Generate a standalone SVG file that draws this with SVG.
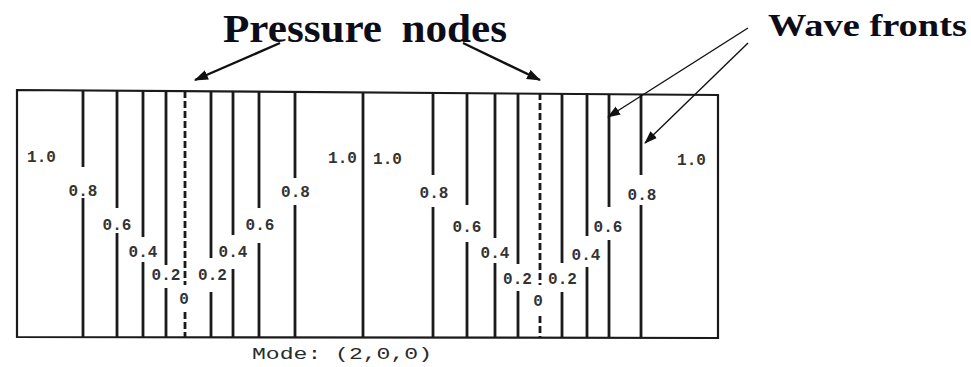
<svg xmlns="http://www.w3.org/2000/svg" width="971" height="367" viewBox="0 0 971 367">
<style>
.bg{fill:#ffffff}
.frame{fill:none;stroke:#1a1a1a;stroke-width:2.2}
.c{fill:none;stroke:#1a1a1a;stroke-width:2.8}
.d{fill:none;stroke:#1a1a1a;stroke-width:2.8;stroke-dasharray:7 3}
.lab{font-family:"Liberation Mono","DejaVu Sans Mono",monospace;font-size:16px;font-weight:bold;fill:#333333;text-anchor:middle}
.mode{font-family:"Liberation Mono","DejaVu Sans Mono",monospace;font-size:17px;fill:#2a2a2a}
.title{font-family:"Liberation Serif","Times New Roman",serif;font-weight:bold;fill:#0d0d1a}
.arr{fill:none;stroke:#111;stroke-width:2.4}
.arr2{fill:none;stroke:#111;stroke-width:1.4}
</style>
<defs>
<marker id="ah" viewBox="0 0 14 10" refX="13" refY="5" markerWidth="14" markerHeight="10" markerUnits="userSpaceOnUse" orient="auto">
<path d="M0,0 L14,5 L0,10 z" fill="#111"/>
</marker>
<marker id="ah2" viewBox="0 0 14 10" refX="13" refY="5" markerWidth="13" markerHeight="10" markerUnits="userSpaceOnUse" orient="auto">
<path d="M0,0 L14,5 L0,10 z" fill="#111"/>
</marker>
</defs>
<rect class="bg" x="0" y="0" width="971" height="367"/>

<g id="title-pressure-nodes">
<text class="title" x="223" y="42" font-size="40" word-spacing="8" textLength="284" lengthAdjust="spacingAndGlyphs">Pressure nodes</text>
</g>
<g id="title-wave-fronts">
<text class="title" x="768" y="36" font-size="31" textLength="199" lengthAdjust="spacingAndGlyphs">Wave fronts</text>
</g>

<g id="box">
<path class="frame" d="M17,90 L718,95 L718,338 L17,337 Z"/>
</g>

<g id="contours-left">
<path class="c" d="M83,91 V167 M83,198 V337"/>
<path class="c" d="M117,91 V208 M117,233 V337"/>
<path class="c" d="M143,91 V237 M143,262 V337"/>
<path class="c" d="M166,91 V265 M166,288 V337"/>
<path class="d" d="M185,91 V285 M185,312 V337"/>
<path class="c" d="M211,92 V258 M211,292 V337"/>
<path class="c" d="M233,92 V235 M233,269 V337"/>
<path class="c" d="M259,92 V208 M259,243 V337"/>
<path class="c" d="M295,92 V178 M295,205 V337"/>
<path class="c" d="M363,92 V337"/>
</g>

<g id="contours-right">
<path class="c" d="M433,93 V175 M433,207 V337"/>
<path class="c" d="M467,93 V205 M467,242 V337"/>
<path class="c" d="M495,93 V238 M495,263 V337"/>
<path class="c" d="M518,93 V264 M518,291 V337"/>
<path class="d" d="M540,93 V285 M540,316 V337"/>
<path class="c" d="M562,93 V263 M562,292 V337"/>
<path class="c" d="M587,93 V236 M587,267 V337"/>
<path class="c" d="M609,94 V207 M609,240 V337"/>
<path class="c" d="M641,94 V175 M641,205 V337"/>
</g>

<g id="labels-left">
<text class="lab" x="41.5" y="162">1.0</text>
<text class="lab" x="83" y="196">0.8</text>
<text class="lab" x="117" y="230">0.6</text>
<text class="lab" x="143" y="257">0.4</text>
<text class="lab" x="166" y="280">0.2</text>
<text class="lab" x="184" y="304">0</text>
<text class="lab" x="212.5" y="280">0.2</text>
<text class="lab" x="233" y="257">0.4</text>
<text class="lab" x="260" y="230">0.6</text>
<text class="lab" x="295.5" y="197">0.8</text>
<text class="lab" x="342.5" y="163">1.0</text>
</g>

<g id="labels-right">
<text class="lab" x="387.5" y="164">1.0</text>
<text class="lab" x="434" y="198">0.8</text>
<text class="lab" x="467" y="232">0.6</text>
<text class="lab" x="495" y="258">0.4</text>
<text class="lab" x="517.5" y="284">0.2</text>
<text class="lab" x="538" y="306">0</text>
<text class="lab" x="562.5" y="284">0.2</text>
<text class="lab" x="586" y="260">0.4</text>
<text class="lab" x="608" y="232">0.6</text>
<text class="lab" x="642" y="200">0.8</text>
<text class="lab" x="691.5" y="165">1.0</text>
</g>

<g id="mode-caption">
<text class="mode" x="252" y="359" textLength="180" lengthAdjust="spacingAndGlyphs">Mode: (2,0,0)</text>
</g>

<g id="connectors">
<line class="arr" x1="280" y1="43" x2="195" y2="80" marker-end="url(#ah)"/>
<line class="arr" x1="463" y1="43" x2="540" y2="80" marker-end="url(#ah)"/>
<line class="arr2" x1="748" y1="28" x2="608" y2="117" marker-end="url(#ah2)"/>
<line class="arr2" x1="748" y1="43" x2="645" y2="143" marker-end="url(#ah2)"/>
</g>
</svg>
